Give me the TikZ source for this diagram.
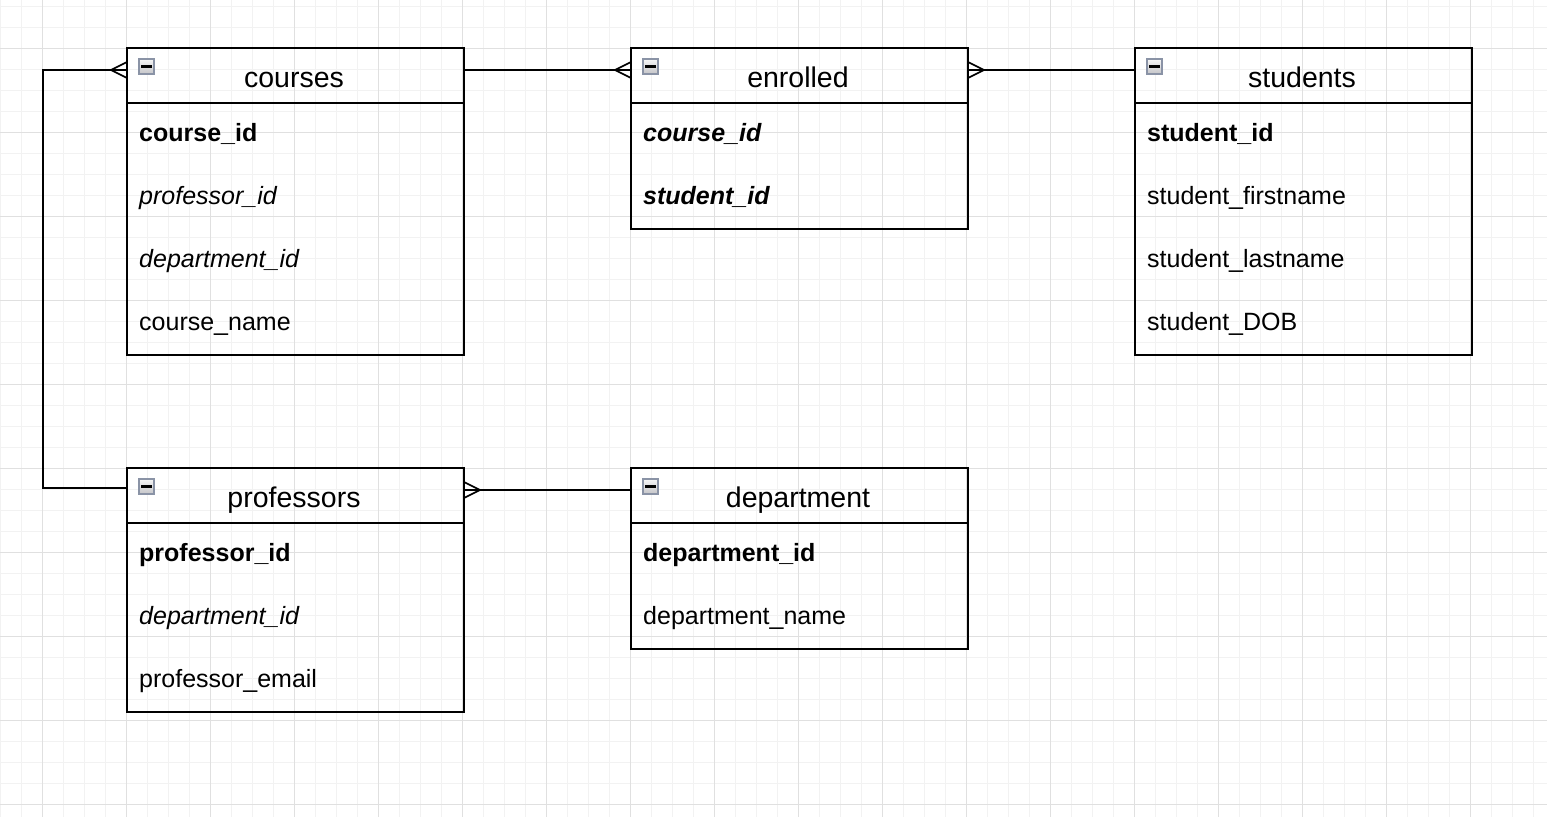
\documentclass[tikz,border=0pt]{standalone}
\usepackage{fontspec}
\setmainfont{Liberation Sans}
\definecolor{gridminor}{HTML}{F2F2F2}
\definecolor{gridmajor}{HTML}{E0E0E0}
\definecolor{iconedge}{HTML}{8A93A6}
\definecolor{icontop}{HTML}{F6F6F6}
\definecolor{iconbot}{HTML}{C4C4C8}
\begin{document}
\begin{tikzpicture}[x=1pt,y=-1pt,
  minorgrid/.style={draw=gridminor, line width=1pt},
  majorgrid/.style={draw=gridmajor, line width=1pt},
  tbl/.style={draw=black, line width=1.6pt, anchor=north west, inner sep=0pt, outer sep=0pt, minimum width=337pt},
  hline/.style={draw=black, line width=1.6pt},
  hdr/.style={font=\fontsize{28.5}{34}\selectfont, anchor=base, inner sep=0pt},
  fld/.style={font=\fontsize{25}{30}\selectfont, anchor=base west, inner sep=0pt},
  pk/.style={fld, font=\fontsize{25}{30}\selectfont\bfseries},
  fk/.style={fld, font=\fontsize{25}{30}\selectfont\itshape},
  pkfk/.style={fld, font=\fontsize{25}{30}\selectfont\bfseries\itshape},
  conn/.style={draw=black, line width=1.6pt},
  icon/.style={draw=iconedge, line width=1.4pt, top color=icontop, bottom color=iconbot,
    minimum size=15pt, inner sep=0pt, anchor=center,
    path picture={\fill[black] ([xshift=-5.5pt,yshift=-1.3pt]path picture bounding box.center) rectangle ([xshift=5.5pt,yshift=1.3pt]path picture bounding box.center);}}
]
\useasboundingbox (0,0) rectangle (1547,817);
\fill[white] (0,0) rectangle (1547,817);
% grid
\foreach \x in {0,21,...,1547} \draw[minorgrid] (\x,0) -- (\x,817);
\foreach \y in {6,27,...,817} \draw[minorgrid] (0,\y) -- (1547,\y);
\foreach \x in {42,126,...,1547} \draw[majorgrid] (\x,0) -- (\x,817);
\foreach \y in {48,132,...,817} \draw[majorgrid] (0,\y) -- (1547,\y);

% courses
\node[tbl, minimum height=307pt] (courses) at (127,48) {};
\draw[hline] (127,103) -- (464,103);
\node[icon] (icC) at (146.5,66.5) {};
\node[hdr] (tC) at (294,87) {courses};
\node[pk] (c1) at (139,141) {course\_id};
\node[fk] (c2) at (139,204) {professor\_id};
\node[fk] (c3) at (139,267) {department\_id};
\node[fld] (c4) at (139,330) {course\_name};

% enrolled
\node[tbl, minimum height=181pt] (enrolled) at (631,48) {};
\draw[hline] (631,103) -- (968,103);
\node[icon] (icE) at (650.5,66.5) {};
\node[hdr] (tE) at (798,87) {enrolled};
\node[pkfk] (e1) at (643,141) {course\_id};
\node[pkfk] (e2) at (643,204) {student\_id};

% students
\node[tbl, minimum height=307pt] (students) at (1135,48) {};
\draw[hline] (1135,103) -- (1472,103);
\node[icon] (icS) at (1154.5,66.5) {};
\node[hdr] (tS) at (1302,87) {students};
\node[pk] (s1) at (1147,141) {student\_id};
\node[fld] (s2) at (1147,204) {student\_firstname};
\node[fld] (s3) at (1147,267) {student\_lastname};
\node[fld] (s4) at (1147,330) {student\_DOB};

% professors
\node[tbl, minimum height=244pt] (professors) at (127,468) {};
\draw[hline] (127,523) -- (464,523);
\node[icon] (icP) at (146.5,486.5) {};
\node[hdr] (tP) at (294,507) {professors};
\node[pk] (p1) at (139,561) {professor\_id};
\node[fk] (p2) at (139,624) {department\_id};
\node[fld] (p3) at (139,687) {professor\_email};

% department
\node[tbl, minimum height=181pt] (department) at (631,468) {};
\draw[hline] (631,523) -- (968,523);
\node[icon] (icD) at (650.5,486.5) {};
\node[hdr] (tD) at (798,507) {department};
\node[pk] (d1) at (643,561) {department\_id};
\node[fld] (d2) at (643,624) {department\_name};

% connection points
\coordinate (cW) at ([yshift=-22pt]courses.north west);
\coordinate (cE) at ([yshift=-22pt]courses.north east);
\coordinate (eW) at ([yshift=-22pt]enrolled.north west);
\coordinate (eE) at ([yshift=-22pt]enrolled.north east);
\coordinate (sW) at ([yshift=-22pt]students.north west);
\coordinate (pW) at ([yshift=-20pt]professors.north west);
\coordinate (pE) at ([yshift=-22pt]professors.north east);
\coordinate (dW) at ([yshift=-22pt]department.north west);

% connectors
\draw[conn] (cW) -- ++(-84,0) |- (pW);
\draw[conn] ([xshift=-16pt]cW) -- ([yshift=8pt]cW) ([xshift=-16pt]cW) -- ([yshift=-8pt]cW);
\draw[conn] (cE) -- (eW);
\draw[conn] ([xshift=-16pt]eW) -- ([yshift=8pt]eW) ([xshift=-16pt]eW) -- ([yshift=-8pt]eW);
\draw[conn] (eE) -- (sW);
\draw[conn] ([xshift=16pt]eE) -- ([yshift=8pt]eE) ([xshift=16pt]eE) -- ([yshift=-8pt]eE);
\draw[conn] (pE) -- (dW);
\draw[conn] ([xshift=16pt]pE) -- ([yshift=8pt]pE) ([xshift=16pt]pE) -- ([yshift=-8pt]pE);
\end{tikzpicture}
\end{document}
